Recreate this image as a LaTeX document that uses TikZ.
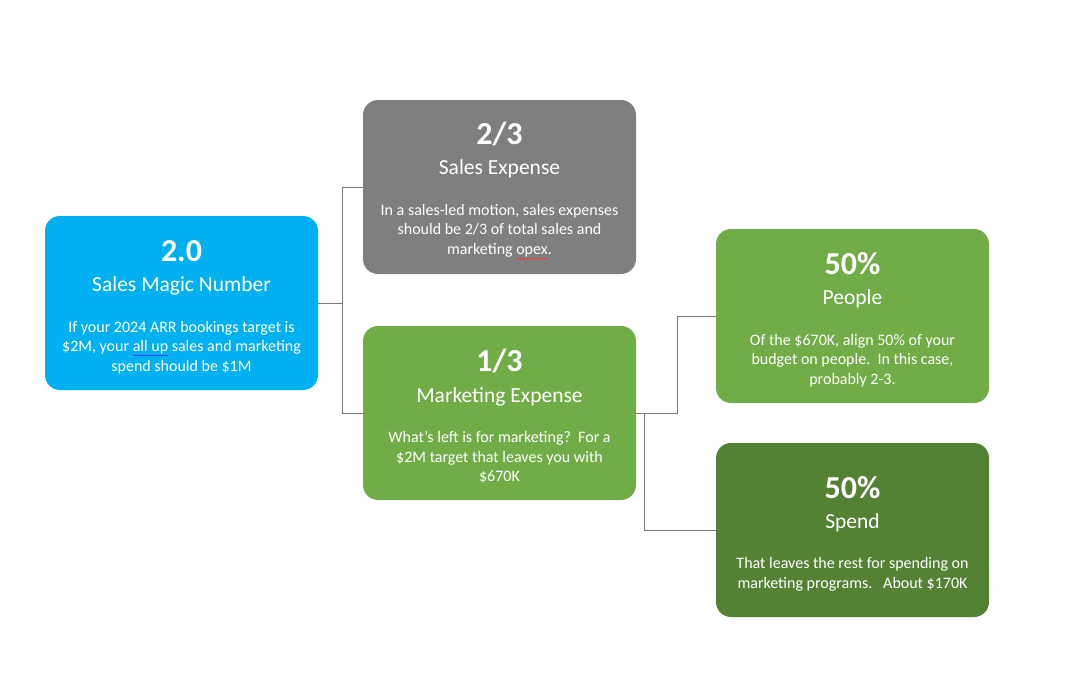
\documentclass[tikz,border=0pt]{standalone}
\usepackage{fontspec}
\setmainfont{Carlito}
\usepackage{xcolor}
\usetikzlibrary{positioning}

\definecolor{magicblue}{HTML}{00B0F0}
\definecolor{salesgray}{HTML}{7F7F7F}
\definecolor{mktgreen}{HTML}{70AD47}
\definecolor{spendgreen}{HTML}{548235}
\definecolor{lineGray}{HTML}{7A7A7A}

% number, title and body of one box
\newcommand{\cardtext}[3]{%
  {\fontsize{32}{32}\selectfont\bfseries\rule{0pt}{29pt}#1}\\[11pt]
  {\fontsize{21.5}{21.5}\selectfont #2}\\[21pt]
  #3}
\newcommand{\markword}[2]{{\color{#1}\underline{\color{white}#2}}}

\begin{document}
\begin{tikzpicture}[x=1pt, y=-1pt,
    card/.style={rounded corners=15pt, minimum width=273pt, minimum height=174pt,
      text=white, align=center, inner sep=0pt,
      font=\fontsize{16}{19.4}\selectfont},
    conn/.style={draw=lineGray, line width=0.9pt}]
    \useasboundingbox (0,0) rectangle (1080,675);

    % Boxes
    \node[card, fill=magicblue] (magic) at (181.5,303)
        {\cardtext{2.0}{Sales Magic Number}{If your 2024 ARR bookings target is\\
         \$2M, your \markword{blue!75}{all up} sales and marketing\\ spend should be \$1M}};
    \node[card, fill=salesgray] (sales) at (499.5,187)
        {\cardtext{2/3}{Sales Expense}{In a sales-led motion, sales expenses\\
         should be 2/3 of total sales and\\ marketing \markword{red!80}{opex}.}};
    \node[card, fill=mktgreen] (mkt) at (499.5,413)
        {\cardtext{1/3}{Marketing Expense}{What’s left is for marketing?\ \ For a\\
         \$2M target that leaves you with\\ \$670K}};
    \node[card, fill=mktgreen] (people) at (852.5,316)
        {\cardtext{50\%}{People}{Of the \$670K, align 50\% of your\\
         budget on people.\ \ In this case,\\ probably 2-3.}};
    \node[card, fill=spendgreen] (spend) at (852.5,530)
        {\cardtext{50\%}{Spend}{That leaves the rest for spending on\\
         marketing programs.\ \ \ About \$170K}};

    % Elbow connectors
    \draw[conn] (magic.east) -- ++(24,0) |- (sales.west);
    \draw[conn] (magic.east) -- ++(24,0) |- (mkt.west);
    \draw[conn] (mkt.east) -- ++(41,0) |- (people.west);
    \draw[conn] (mkt.east) -- ++(8,0) |- (spend.west);
\end{tikzpicture}
\end{document}
